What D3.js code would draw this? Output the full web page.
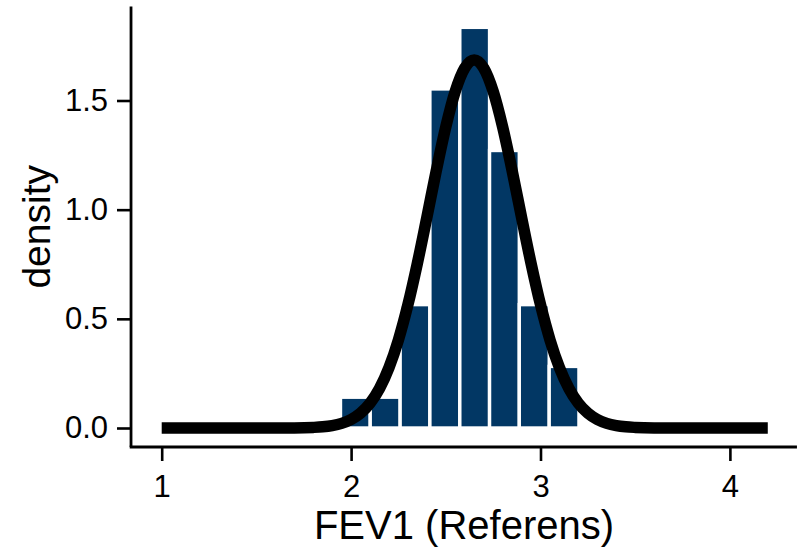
<!DOCTYPE html>
<html>
<head>
<meta charset="utf-8">
<script src="https://cdn.jsdelivr.net/npm/d3@7"></script>
<style>
  html, body { margin: 0; padding: 0; background: #ffffff; }
  svg { display: block; font-family: "Liberation Sans", Arial, sans-serif; }
</style>
</head>
<body>
<svg id="chart" width="800" height="548"></svg>
<script>
// ---- data ----
const binEdges = [1.944, 2.101, 2.259, 2.416, 2.574, 2.731, 2.888, 3.046, 3.203];
const binDensity = [0.141, 0.141, 0.565, 1.553, 1.835, 1.271, 0.565, 0.282];

const curveX = [1.0, 1.5, 1.7, 1.8, 1.85, 1.9, 1.95, 2.0, 2.05, 2.1, 2.15, 2.2, 2.25, 2.3, 2.35, 2.4, 2.45, 2.5, 2.55, 2.6, 2.65,
                2.7, 2.75, 2.8, 2.85, 2.9, 2.95, 3.0, 3.05, 3.1, 3.15, 3.2, 3.25, 3.3, 3.35, 3.4, 3.45, 3.5, 3.6, 3.8, 4.2];
const curveY = [0.0, 0.0, 0.0005, 0.0027, 0.0055, 0.0111, 0.0212, 0.0387, 0.0677, 0.1131, 0.1808, 0.2764, 0.404, 0.5646, 0.7547, 0.9648, 1.1795, 1.379, 1.542, 1.6487, 1.686,
                1.6487, 1.542, 1.379, 1.1795, 0.9648, 0.7547, 0.5646, 0.404, 0.2764, 0.1808, 0.1131, 0.0677, 0.0387, 0.0212, 0.0111, 0.0055, 0.0027, 0.0005, 0.0, 0.0];

const xTicks = [1, 2, 3, 4];
const yTicks = [0, 0.5, 1.0, 1.5];
const xExtent = [0.838, 4.354];
const yExtent = [-0.087, 1.93];
const xTitle = "FEV1 (Referens)";
const yTitle = "density";

// ---- layout ----
const svg = d3.select("#chart");
const x = d3.scaleLinear().domain([1, 4]).range([161.7, 729.9]);
const y = d3.scaleLinear().domain([0, 1.5]).range([428, 100.5]);

const barColor = "#023764";

// bars
const bins = binDensity.map((d, i) => ({ x0: binEdges[i], x1: binEdges[i + 1], d }));
svg.append("g").selectAll("rect").data(bins).join("rect")
  .attr("x", b => x(b.x0))
  .attr("width", b => x(b.x1) - x(b.x0))
  .attr("y", b => y(b.d))
  .attr("height", b => y(0) - y(b.d))
  .attr("fill", barColor)
  .attr("stroke", "#ffffff")
  .attr("stroke-width", 3.4);

// density curve
const pts = curveX.map((v, i) => [v, curveY[i]]);
svg.append("path")
  .datum(pts)
  .attr("fill", "none")
  .attr("stroke", "#000000")
  .attr("stroke-width", 11.5)
  .attr("stroke-linejoin", "round")
  .attr("stroke-linecap", "butt")
  .attr("d", d3.line().x(p => x(p[0])).y(p => y(p[1])).curve(d3.curveMonotoneX));

// axes
const yAxisX = x(xExtent[0]);
const xAxisY = y(yExtent[0]);

const gx = svg.append("g").attr("transform", `translate(0,${xAxisY})`)
  .call(d3.axisBottom(x).tickValues(xTicks).tickFormat(d3.format("d")).tickSize(14).tickPadding(14).tickSizeOuter(0));
const gy = svg.append("g").attr("transform", `translate(${yAxisX},0)`)
  .call(d3.axisLeft(y).tickValues(yTicks).tickFormat(d3.format(".1f")).tickSize(14).tickPadding(9).tickSizeOuter(0));

[gx, gy].forEach(g => {
  g.select(".domain").remove();
  g.selectAll(".tick line").attr("stroke", "#000").attr("stroke-width", 2.6);
  g.selectAll(".tick text").attr("fill", "#000").style("font-size", "31px")
    .style("font-family", '"Liberation Sans", Arial, sans-serif');
});

svg.append("line")
  .attr("x1", x(xExtent[0]) - 1.3).attr("x2", x(xExtent[1]))
  .attr("y1", xAxisY).attr("y2", xAxisY)
  .attr("stroke", "#000").attr("stroke-width", 2.8);
svg.append("line")
  .attr("x1", yAxisX).attr("x2", yAxisX)
  .attr("y1", y(yExtent[1])).attr("y2", xAxisY)
  .attr("stroke", "#000").attr("stroke-width", 2.8);

// titles
svg.append("text")
  .attr("x", (x(xExtent[0]) + x(xExtent[1])) / 2)
  .attr("y", 538.5)
  .attr("text-anchor", "middle")
  .style("font-size", "40px")
  .attr("fill", "#000")
  .text(xTitle);

svg.append("text")
  .attr("transform", `translate(50,${(y(yExtent[1]) + xAxisY) / 2}) rotate(-90)`)
  .attr("text-anchor", "middle")
  .style("font-size", "39px")
  .attr("fill", "#000")
  .text(yTitle);
</script>
</body>
</html>
